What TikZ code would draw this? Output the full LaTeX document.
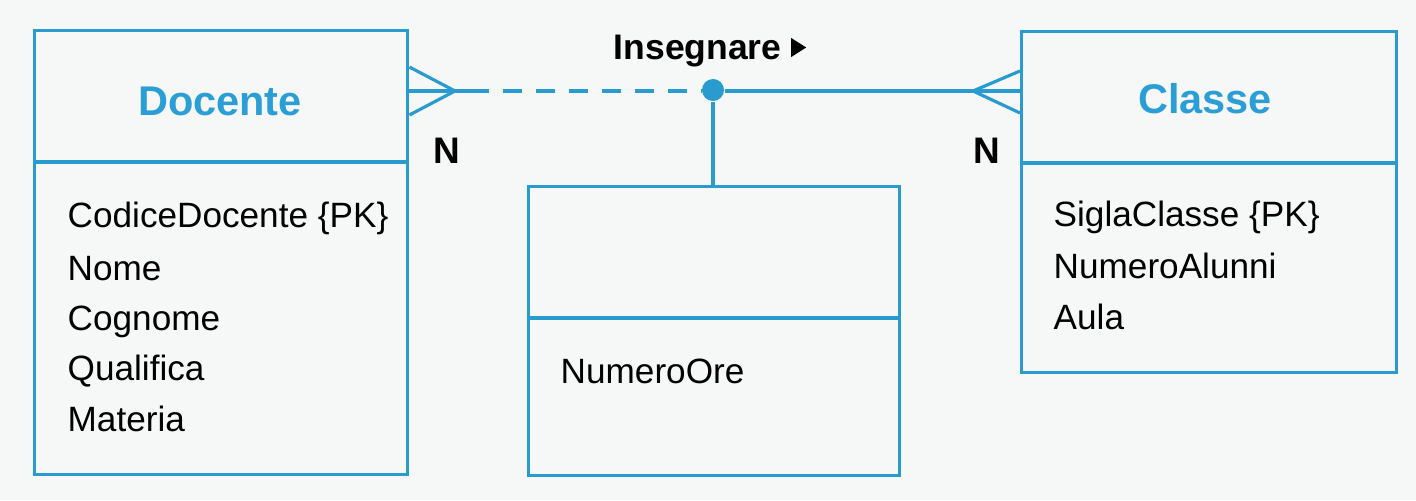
\documentclass[tikz,border=0pt]{standalone}
\usepackage{fontspec}
\setmainfont{Liberation Sans}
\definecolor{erblue}{RGB}{41,155,206}
\definecolor{titleblue}{RGB}{44,158,214}
\definecolor{paper}{RGB}{246,248,248}
\begin{document}
\begin{tikzpicture}[x=0.01cm,y=-0.01cm,
  ebox/.style={draw=erblue,line width=0.9pt,rectangle,inner sep=0pt,anchor=north west},
  eline/.style={draw=erblue,line width=0.9pt},
  etitle/.style={font=\fontsize{11.8}{14}\selectfont\bfseries,text=titleblue,anchor=base,inner sep=0pt},
  attr/.style={font=\fontsize{10}{12}\selectfont,anchor=base west,inner sep=0pt},
  card/.style={font=\fontsize{10.5}{12}\selectfont\bfseries,anchor=base west,inner sep=0pt},
  reldot/.style={circle,fill=erblue,inner sep=0pt,minimum size=0.22cm}]
\useasboundingbox (0,0) rectangle (1416,500);
\fill[paper] (0,0) rectangle (1416,500);
% entity boxes
\node[ebox,minimum width=3.73cm,minimum height=4.44cm] (doc) at (33,29) {};
\node[ebox,minimum width=3.75cm,minimum height=3.41cm] (cls) at (1020,30) {};
\node[ebox,minimum width=3.71cm,minimum height=2.89cm] (rel) at (527,185) {};
% dividers
\draw[eline] (doc.west |- 0,162) -- (doc.east |- 0,162);
\draw[eline] (cls.west |- 0,163) -- (cls.east |- 0,163);
\draw[eline] (rel.west |- 0,318) -- (rel.east |- 0,318);
% titles
\node[etitle] (doct) at (220,115) {Docente};
\node[etitle] (clst) at (1205,113) {Classe};
% attributes
\node[attr] (a1) at (67,227) {CodiceDocente {\{}PK{\}}};
\node[attr] (a2) at (67,280) {Nome};
\node[attr] (a3) at (67,330) {Cognome};
\node[attr] (a4) at (67,380) {Qualifica};
\node[attr] (a5) at (67,431) {Materia};
\node[attr] (b1) at (1053,226) {SiglaClasse {\{}PK{\}}};
\node[attr] (b2) at (1053,278) {NumeroAlunni};
\node[attr] (b3) at (1053,329) {Aula};
\node[attr] (r1) at (560,383) {NumeroOre};
% relationship
\node[reldot] (dot) at (713,90) {};
\coordinate (dtip) at (455,91);
\coordinate (dend) at (470,91);
\coordinate (ctip) at (973,91);
\draw[eline] (doc.east |- 0,67) -- (dtip) -- (doc.east |- 0,115);
\draw[eline] (doc.east |- 0,91) -- (dend);
\draw[eline,dash pattern=on 0.19cm off 0.14cm] (dend) -- (dot.west |- dend);
\draw[eline] (dot.east |- ctip) -- (cls.west |- ctip);
\draw[eline] (cls.west |- 0,71) -- (ctip) -- (cls.west |- 0,113);
\draw[eline] (dot) -- (dot |- rel.north);
% labels
\node[card,font=\fontsize{10.1}{12}\selectfont\bfseries] (lab) at (613,59) {Insegnare};
\fill (lab.base east) ++(9,-2) -- ++(0,-19) -- ++(15,9.5) -- cycle;
\node[card] (n1) at (433,163) {N};
\node[card] (n2) at (973,163) {N};
\end{tikzpicture}
\end{document}
